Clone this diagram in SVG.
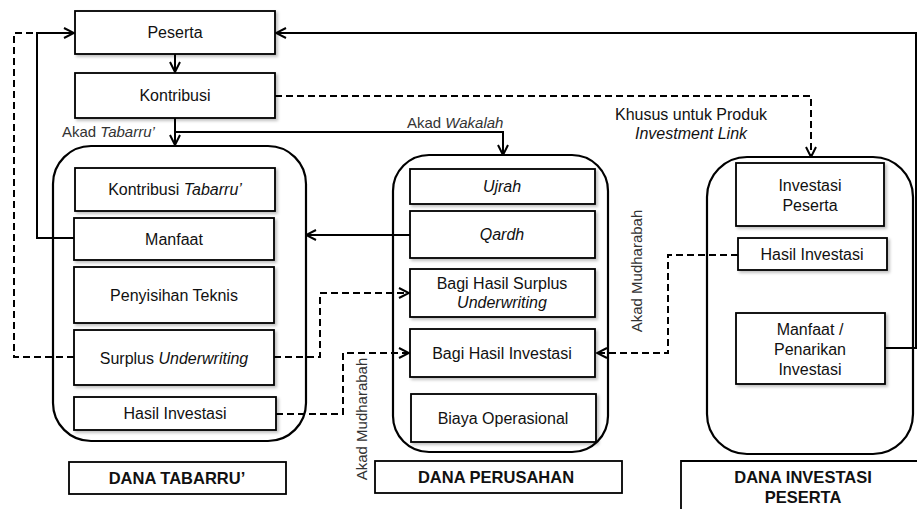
<svg xmlns="http://www.w3.org/2000/svg" width="917" height="509" viewBox="0 0 917 509">
<style>
.box{fill:#fff;stroke:#000;stroke-width:1.8;filter:url(#sh)}
.plain{fill:#fff;stroke:#000;stroke-width:1.8}
.cont{fill:none;stroke:#000;stroke-width:2.2}
.t{font-family:"Liberation Sans",Arial,sans-serif;font-size:16px;fill:#111;text-anchor:middle}
.b{font-weight:bold;font-size:16.5px}
.lbl{font-family:"Liberation Sans",Arial,sans-serif;font-size:15px;fill:#333}
.c{fill:none;stroke:#000;stroke-width:2}
.d{fill:none;stroke:#000;stroke-width:2;stroke-dasharray:7 4}
</style>
<defs>
<marker id="ah" viewBox="0 0 12 12" refX="11" refY="6" markerWidth="12" markerHeight="12" markerUnits="userSpaceOnUse" orient="auto">
<path d="M1,1 L11,6 L1,11" fill="none" stroke="#000" stroke-width="2"/>
</marker>
<filter id="sh" x="-10%" y="-20%" width="125%" height="150%">
<feDropShadow dx="2" dy="2" stdDeviation="1.5" flood-color="#000" flood-opacity="0.25"/>
</filter>
</defs>
<rect width="917" height="509" fill="#fff"/>

<g id="containers">
<rect id="c-tabarru" class="cont" x="53" y="146" width="253" height="295" rx="38"/>
<rect id="c-perusahan" class="cont" x="393" y="155" width="215" height="297" rx="36"/>
<rect id="c-investasi" class="cont" x="707" y="157" width="206" height="297" rx="40"/>
</g>

<g id="connectors">
<path class="c" d="M885,348 H916 V33 H276" marker-end="url(#ah)"/>
<path class="c" d="M74,238 H37 V33 H74" marker-end="url(#ah)"/>
<path class="d" d="M74,357 H14 V33 H37"/>
<path class="c" d="M175,54 V72" marker-end="url(#ah)"/>
<path class="c" d="M175,118 V145" marker-end="url(#ah)"/>
<path class="c" d="M175,132 H503 V155" marker-end="url(#ah)"/>
<path class="d" d="M275,96 H811 V157" marker-end="url(#ah)"/>
<path class="c" d="M410,235 H306" marker-end="url(#ah)"/>
<path class="d" d="M274,357 H320 V293 H409" marker-end="url(#ah)"/>
<path class="d" d="M276,414 H343 V353 H409" marker-end="url(#ah)"/>
<path class="d" d="M738,255 H668 V353 H597" marker-end="url(#ah)"/>
</g>

<g id="labels">
<text class="lbl" x="62" y="137">Akad <tspan font-style="italic">Tabarru’</tspan></text>
<text class="lbl" x="407" y="128">Akad <tspan font-style="italic">Wakalah</tspan></text>
<text class="t" x="691" y="120" font-size="16.5">Khusus untuk Produk</text>
<text class="t" x="691" y="139" font-size="16.5" font-style="italic">Investment Link</text>
<text class="lbl" transform="translate(367,419) rotate(-90)" text-anchor="middle">Akad Mudharabah</text>
<text class="lbl" transform="translate(642,271) rotate(-90)" text-anchor="middle">Akad Mudharabah</text>
</g>

<g id="peserta"><rect class="box" x="75" y="11" width="200" height="43"/><text class="t" x="175" y="38">Peserta</text></g>
<g id="kontribusi"><rect class="box" x="75" y="73" width="200" height="45"/><text class="t" x="175" y="101">Kontribusi</text></g>

<g id="kontribusi-tabarru"><rect class="box" x="75" y="168" width="200" height="43"/><text class="t" x="175" y="195">Kontribusi <tspan font-style="italic">Tabarru’</tspan></text></g>
<g id="manfaat"><rect class="box" x="74" y="218" width="200" height="42"/><text class="t" x="174" y="245">Manfaat</text></g>
<g id="penyisihan"><rect class="box" x="74" y="267" width="200" height="56"/><text class="t" x="174" y="301">Penyisihan Teknis</text></g>
<g id="surplus"><rect class="box" x="74" y="330" width="200" height="55"/><text class="t" x="174" y="364">Surplus <tspan font-style="italic">Underwriting</tspan></text></g>
<g id="hasil-tabarru"><rect class="box" x="74" y="397" width="202" height="33"/><text class="t" x="175" y="419">Hasil Investasi</text></g>
<g id="dana-tabarru"><rect class="plain" x="69" y="462" width="217" height="32"/><text class="t b" x="177" y="484">DANA TABARRU’</text></g>

<g id="ujrah"><rect class="box" x="410" y="169" width="185" height="35"/><text class="t" x="502" y="192" font-style="italic">Ujrah</text></g>
<g id="qardh"><rect class="box" x="410" y="211" width="185" height="47"/><text class="t" x="502" y="240" font-style="italic">Qardh</text></g>
<g id="bagi-surplus"><rect class="box" x="410" y="269" width="185" height="48"/><text class="t" x="502" y="289">Bagi Hasil Surplus</text><text class="t" x="502" y="308" font-style="italic">Underwriting</text></g>
<g id="bagi-investasi"><rect class="box" x="410" y="329" width="185" height="48"/><text class="t" x="502" y="359">Bagi Hasil Investasi</text></g>
<g id="biaya"><rect class="box" x="411" y="394" width="185" height="48"/><text class="t" x="503" y="424">Biaya Operasional</text></g>
<g id="dana-perusahan"><rect class="plain" x="375" y="461" width="247" height="32"/><text class="t b" x="496" y="483">DANA PERUSAHAN</text></g>

<g id="investasi-peserta"><rect class="box" x="736" y="163" width="148" height="63"/><text class="t" x="810" y="191">Investasi</text><text class="t" x="810" y="211">Peserta</text></g>
<g id="hasil-peserta"><rect class="box" x="738" y="238" width="149" height="32"/><text class="t" x="812" y="260">Hasil Investasi</text></g>
<g id="manfaat-penarikan"><rect class="box" x="736" y="313" width="149" height="71"/><text class="t" x="810" y="335">Manfaat /</text><text class="t" x="810" y="355">Penarikan</text><text class="t" x="810" y="375">Investasi</text></g>
<g id="dana-investasi"><path class="plain" d="M681,512 V461 H920"/><text class="t b" x="803" y="483">DANA INVESTASI</text><text class="t b" x="803" y="503">PESERTA</text></g>
</svg>
